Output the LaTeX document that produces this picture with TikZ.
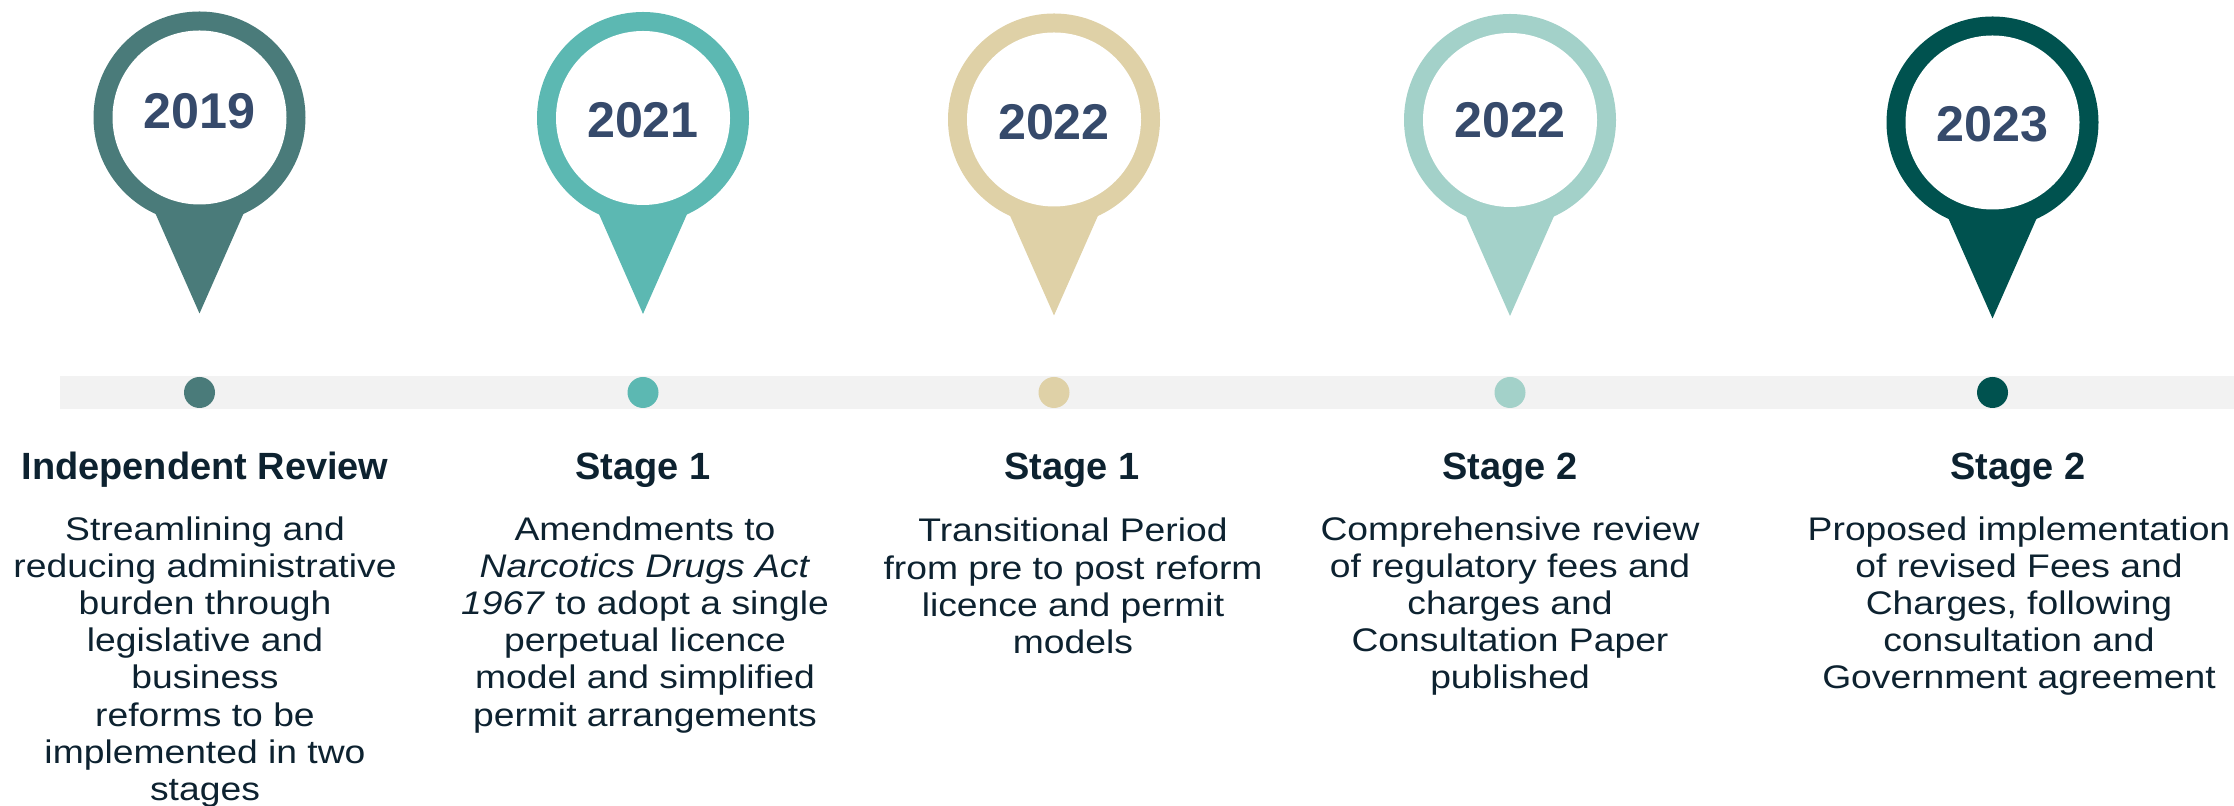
\documentclass[tikz,border=0pt]{standalone}
\usepackage{fontspec}
\setmainfont{Liberation Sans}
\newfontfamily\widesans[FakeStretch=1.14]{Liberation Sans}
\usepackage{tikz}
\usepackage{xcolor}
\usetikzlibrary{positioning}
\definecolor{pinone}{HTML}{4A7B7A}
\definecolor{pintwo}{HTML}{5CB8B2}
\definecolor{pinthree}{HTML}{DFD1A7}
\definecolor{pinfour}{HTML}{A3D1C9}
\definecolor{pinfive}{HTML}{00524F}
\definecolor{yearblue}{HTML}{364A6B}
\definecolor{inkdark}{HTML}{0D2230}
\definecolor{bargray}{HTML}{F2F2F2}
\tikzset{
	year/.style={font=\fontsize{14.3}{17}\selectfont\bfseries, text=yearblue, inner sep=0pt},
	stagehead/.style={font=\fontsize{10.8}{13}\selectfont\bfseries, text=inkdark, anchor=base, inner sep=0pt},
	stagetext/.style={font=\widesans\fontsize{9.3}{10.58}\selectfont, text=inkdark, align=center, anchor=base, inner sep=0pt},
}

\begin{document}
\begin{tikzpicture}
		\useasboundingbox (0,0) rectangle (22.34,8.06);
		\fill[bargray] (0.60,3.97) rectangle (22.34,4.30);
		% pins
		\fill[pinone] (1.995,6.885) circle (1.06);
		\fill[pinone] (1.475,6.105) -- (2.515,6.105) -- (1.995,4.925) -- cycle;
		\fill[white] (1.995,6.885) circle (0.87);
		\fill[pinone] (1.995,4.135) circle (0.155);
		\fill[pintwo] (6.43,6.88) circle (1.06);
		\fill[pintwo] (5.91,6.10) -- (6.95,6.10) -- (6.43,4.92) -- cycle;
		\fill[white] (6.43,6.88) circle (0.87);
		\fill[pintwo] (6.43,4.135) circle (0.155);
		\fill[pinthree] (10.54,6.865) circle (1.06);
		\fill[pinthree] (10.02,6.085) -- (11.06,6.085) -- (10.54,4.905) -- cycle;
		\fill[white] (10.54,6.865) circle (0.87);
		\fill[pinthree] (10.54,4.135) circle (0.155);
		\fill[pinfour] (15.10,6.86) circle (1.06);
		\fill[pinfour] (14.58,6.08) -- (15.62,6.08) -- (15.10,4.90) -- cycle;
		\fill[white] (15.10,6.86) circle (0.87);
		\fill[pinfour] (15.10,4.135) circle (0.155);
		\fill[pinfive] (19.925,6.835) circle (1.06);
		\fill[pinfive] (19.405,6.055) -- (20.445,6.055) -- (19.925,4.875) -- cycle;
		\fill[white] (19.925,6.835) circle (0.87);
		\fill[pinfive] (19.925,4.135) circle (0.155);
		% years
		\node[year] (year1) at (1.995,6.945) {2019};
		\node[year] (year2) at (6.43,6.86) {2021};
		\node[year] (year3) at (10.54,6.84) {2022};
		\node[year] (year4) at (15.10,6.86) {2022};
		\node[year] (year5) at (19.925,6.82) {2023};
		% stages (base = last line)
		\node[stagehead] (head1) at (2.05,3.26) {Independent Review};
		\node[stagehead] (head2) at (6.43,3.26) {Stage 1};
		\node[stagehead] (head3) at (10.72,3.26) {Stage 1};
		\node[stagehead] (head4) at (15.10,3.26) {Stage 2};
		\node[stagehead] (head5) at (20.18,3.26) {Stage 2};
		\node[stagetext] (text1) at (2.05,0.055) {Streamlining and\\reducing administrative\\burden through\\legislative and\\business\\reforms to be\\implemented in two\\stages};
		\node[stagetext] (text2) at (6.45,0.799) {Amendments to\\\textit{Narcotics Drugs Act}\\\textit{1967} to adopt a single\\perpetual licence\\model and simplified\\permit arrangements};
		\node[stagetext] (text3) at (10.73,1.526) {Transitional Period\\from pre to post reform\\licence and permit\\models};
		\node[stagetext] (text4) at (15.10,1.171) {Comprehensive review\\of regulatory fees and\\charges and\\Consultation Paper\\published};
		\node[stagetext] (text5) at (20.19,1.171) {Proposed implementation\\of revised Fees and\\Charges, following\\consultation and\\Government agreement};
	\end{tikzpicture}
\end{document}
